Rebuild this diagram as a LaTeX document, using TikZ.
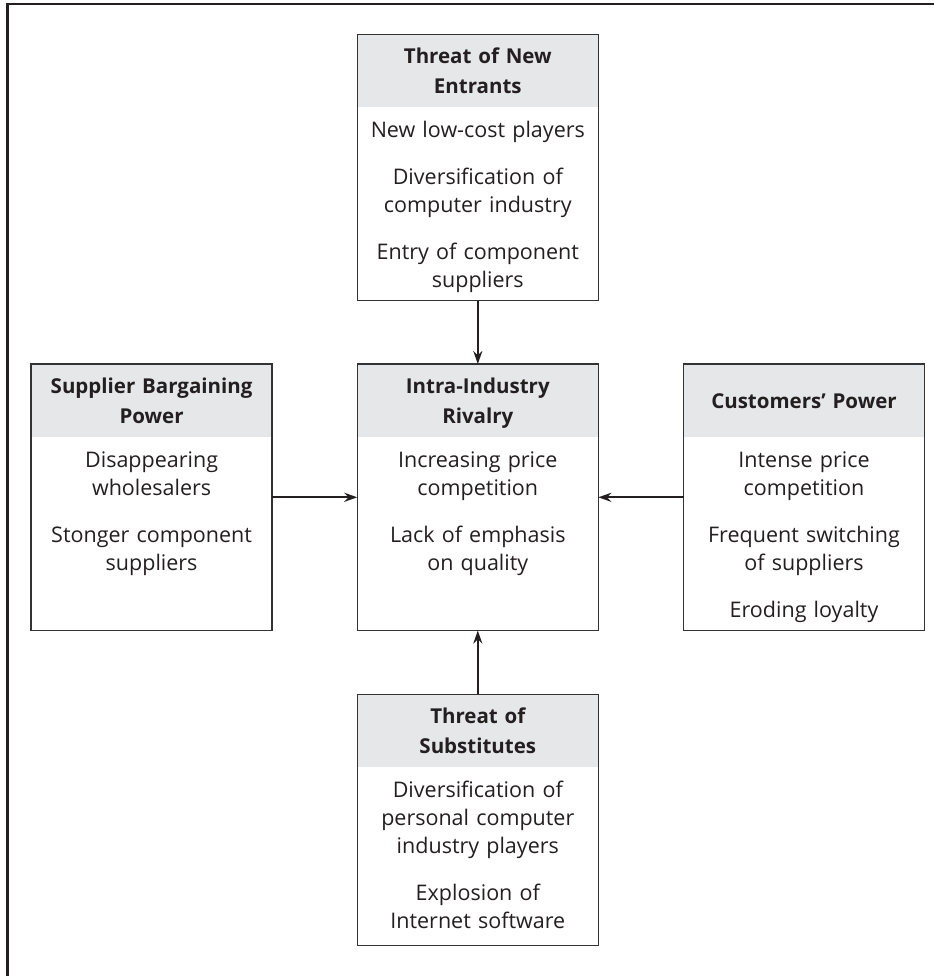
\documentclass[tikz,border=0pt]{standalone}
\usepackage{fontspec}
\setmainfont{Open Sans}
\usetikzlibrary{arrows.meta}
\definecolor{ink}{HTML}{231F20}
\definecolor{hdr}{HTML}{E6E7E8}
\definecolor{edge}{HTML}{333333}
\tikzset{
  box/.style={draw=edge, line width=1.4pt, minimum width=241pt, inner sep=0pt, outer sep=0pt,
    path picture={\fill[hdr] (path picture bounding box.north west) rectangle ([yshift=-73pt]path picture bounding box.north east);}},
  hdrtext/.style={anchor=base, text width=238pt, align=center, inner sep=0pt,
    font=\fontsize{20.5}{30}\selectfont\bfseries, text=ink},
  bodytext/.style={anchor=base, text width=238pt, align=center, inner sep=0pt,
    font=\fontsize{21.5}{28}\selectfont, text=ink},
  conn/.style={-{Stealth[length=13pt,width=9pt]}, line width=2.2pt, draw=ink},
  frameline/.style={line width=2.2pt, draw=ink}
}
\begin{document}
\begin{tikzpicture}
\useasboundingbox (0pt,0pt) rectangle (934pt,-976pt);
\draw[frameline] (7.5pt,-976pt) -- (7.5pt,-4pt) -- (934pt,-4pt);

\node[box, minimum height=266.4pt] (T) at (477.8pt,-167.5pt) {};
\node[box, minimum height=266.5pt] (C) at (477.8pt,-497.3pt) {};
\node[box, minimum height=266.5pt] (L) at (151.6pt,-497.3pt) {};
\node[box, minimum height=266.5pt] (R) at (804pt,-497.3pt) {};
\node[box, minimum height=251.4pt] (B) at (477.8pt,-820pt) {};

\node[hdrtext] (Th) at ([yshift=-29.5pt]T.north) {Threat of New\\Entrants};
\node[hdrtext] (Ch) at ([yshift=-29.5pt]C.north) {Intra-Industry\\Rivalry};
\node[hdrtext] (Lh) at ([yshift=-29.5pt]L.north) {Supplier Bargaining\\Power};
\node[hdrtext] (Rh) at ([yshift=-44.3pt]R.north) {Customers’ Power};
\node[hdrtext] (Bh) at ([yshift=-29.5pt]B.north) {Threat of\\Substitutes};

\node[bodytext] (Tb) at ([yshift=-103pt]T.north) {New low-cost players\\[19pt]Diversification of\\computer industry\\[19pt]Entry of component\\suppliers};
\node[bodytext] (Cb) at ([yshift=-103pt]C.north) {Increasing price\\competition\\[19pt]Lack of emphasis\\on quality};
\node[bodytext] (Lb) at ([yshift=-103pt]L.north) {Disappearing\\wholesalers\\[19pt]Stonger component\\suppliers};
\node[bodytext] (Rb) at ([yshift=-103pt]R.north) {Intense price\\competition\\[19pt]Frequent switching\\of suppliers\\[19pt]Eroding loyalty};
\node[bodytext] (Bb) at ([yshift=-103pt]B.north) {Diversification of\\personal computer\\industry players\\[19pt]Explosion of\\Internet software};

\draw[conn] (T.south) -- (C.north);
\draw[conn] (L.east) -- (C.west);
\draw[conn] (R.west) -- (C.east);
\draw[conn] (B.north) -- (C.south);
\end{tikzpicture}
\end{document}
